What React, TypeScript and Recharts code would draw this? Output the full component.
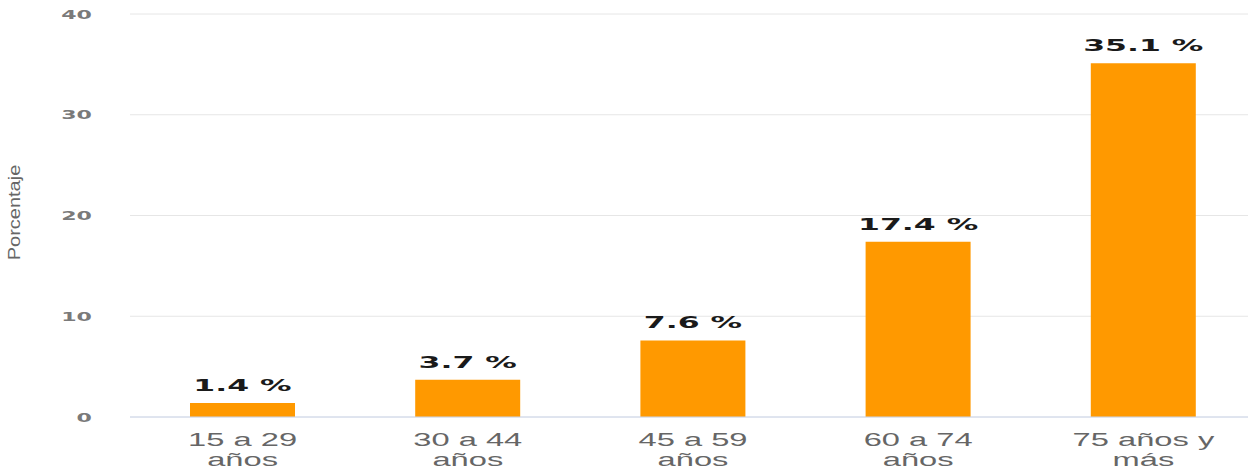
import React from 'react';
import { BarChart, Bar, XAxis, YAxis, CartesianGrid, LabelList } from 'recharts';

const categories = ['15 a 29 años', '30 a 44 años', '45 a 59 años', '60 a 74 años', '75 años y más'];
const values = [1.4, 3.7, 7.6, 17.4, 35.1];
const yTicks = [0, 10, 20, 30, 40];

const data = categories.map((name, i) => ({ name, value: values[i] }));

// split the last word onto its own line, like the original wrap
const wrap = (s: string) => {
  const k = s.lastIndexOf(' ');
  return [s.slice(0, k), s.slice(k + 1)];
};

const YTick = (props: any) => {
  const { x, y, payload } = props;
  return (
    <g transform={`translate(${x},${y}) scale(1.7,1)`}>
      <text x={0} y={0} dy="0.36em" textAnchor="end" fill="#7a7a7a" fontSize={13} fontWeight="bold" fontFamily="DejaVu Sans">
        {payload.value}
      </text>
    </g>
  );
};

const XTick = (props: any) => {
  const { x, y, payload } = props;
  const [a, b] = wrap(payload.value);
  return (
    <g transform={`translate(${x},${y}) scale(1.72,1)`}>
      <text textAnchor="middle" fill="#666" fontSize={19} fontFamily="Liberation Sans, Arial, sans-serif">
        <tspan x={0} y={29}>{a}</tspan>
        <tspan x={0} y={49}>{b}</tspan>
      </text>
    </g>
  );
};

const BarLabel = (props: any) => {
  const { x, y, width, value } = props;
  return (
    <g transform={`translate(${x + width / 2},${y - 12}) scale(2.1,1)`}>
      <text x={0} y={0} textAnchor="middle" fill="#1a1a1a" fontSize={15} fontWeight="bold" fontFamily="DejaVu Sans">
        {`${value} %`}
      </text>
    </g>
  );
};

const AxisTitle = (props: any) => {
  const { viewBox } = props;
  const cx = viewBox.x + 20;
  const cy = viewBox.y + viewBox.height / 2 - 3;
  return (
    <g transform={`translate(${cx},${cy}) rotate(-90) scale(1.25,1)`}>
      <text x={0} y={0} textAnchor="middle" fill="#666" fontSize={16} fontFamily="Liberation Sans Narrow, Arial Narrow, sans-serif">
        Porcentaje
      </text>
    </g>
  );
};

export default function App() {
  return (
    <div style={{ position: 'absolute', left: 0, top: 0, width: 1248, height: 474, overflow: 'hidden', background: '#fff' }}>
      <BarChart width={1256} height={474} data={data} margin={{ top: 14, right: 0, left: 0, bottom: 0 }}>
        <CartesianGrid vertical={false} stroke="#e6e6e6" />
        <XAxis
          dataKey="name"
          axisLine={{ stroke: '#ccd6eb' }}
          tickLine={false}
          tickSize={0}
          tickMargin={0}
          tick={<XTick />}
          interval={0}
          height={57}
        />
        <YAxis
          domain={[0, 40]}
          ticks={yTicks}
          width={130}
          axisLine={false}
          tickLine={false}
          tickSize={0}
          tickMargin={38}
          tick={<YTick />}
          label={{ content: <AxisTitle /> }}
        />
        <Bar dataKey="value" fill="#ff9900" barSize={105} isAnimationActive={false}>
          <LabelList dataKey="value" content={<BarLabel />} />
        </Bar>
      </BarChart>
    </div>
  );
}
